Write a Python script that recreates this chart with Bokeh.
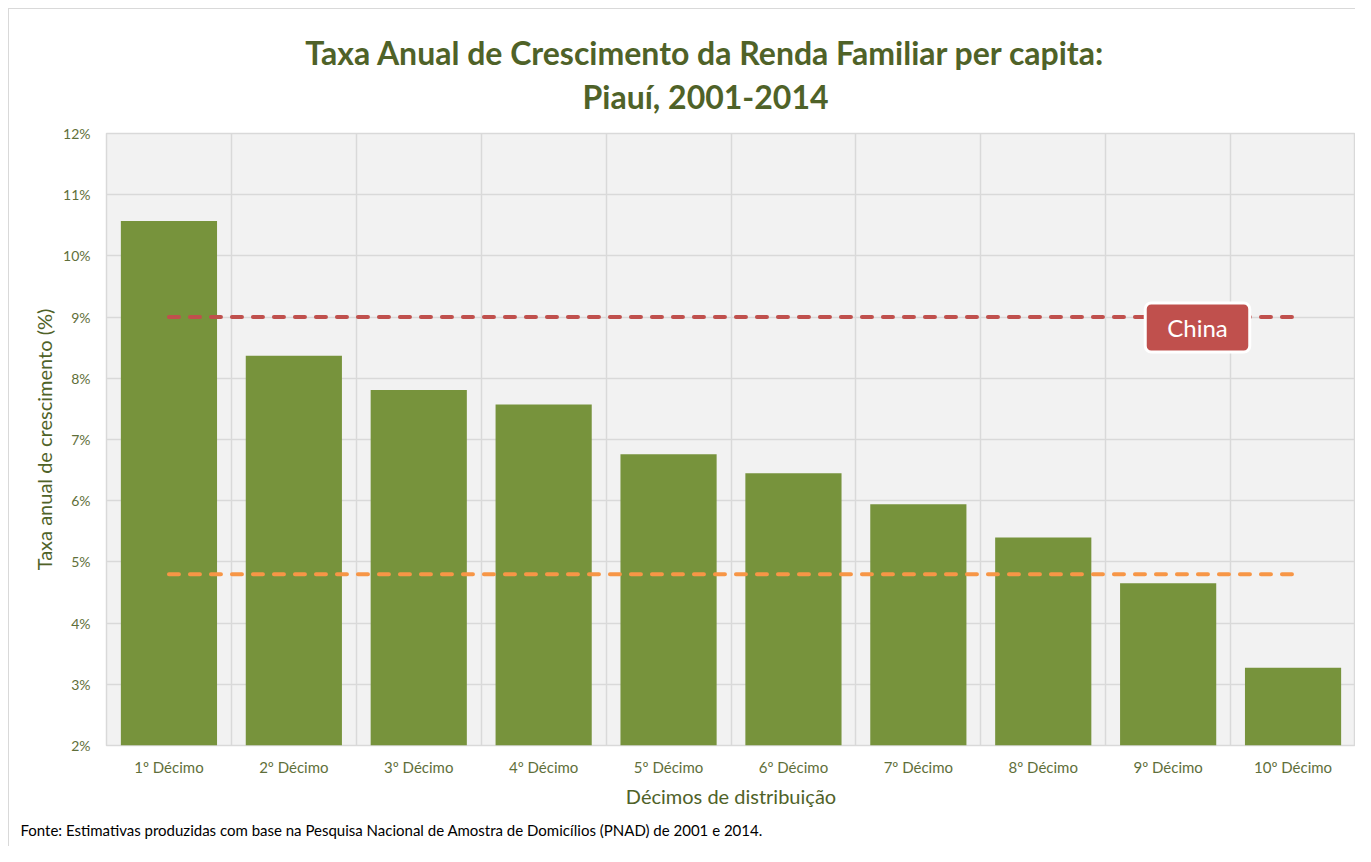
from bokeh.plotting import figure
from bokeh.layouts import column
from bokeh.models import (Range1d, FixedTicker, PrintfTickFormatter, Title, Label)
from bokeh.core.properties import value
from bokeh.embed import file_html
from bokeh.resources import INLINE

# ---- data ----
categorias = ["1º Décimo", "2º Décimo", "3º Décimo", "4º Décimo", "5º Décimo",
              "6º Décimo", "7º Décimo", "8º Décimo", "9º Décimo", "10º Décimo"]
taxa_crescimento = [10.57, 8.37, 7.81, 7.57, 6.76, 6.45, 5.94, 5.40, 4.65, 3.27]
taxa_china = 9.0
taxa_referencia = 4.8
y_ticks = [2, 3, 4, 5, 6, 7, 8, 9, 10, 11, 12]

titulo = ["Taxa Anual de Crescimento da Renda Familiar per capita:", "Piauí, 2001-2014"]
fonte_txt = "Fonte: Estimativas produzidas com base na  Pesquisa Nacional de Amostra de Domicílios (PNAD) de 2001 e 2014."

FONT = "Lato"
TITLE_C = "#4F6228"
TICK_C = "#5F6F3A"
W = 1355
HEAD_H = 120
LEFT = 106

# ---- header (title); its frame is aligned with the main frame ----
head = figure(width=W, height=HEAD_H, output_backend="svg", toolbar_location=None,
              x_range=Range1d(LEFT, W), y_range=Range1d(HEAD_H, 0),
              x_axis_type=None, y_axis_type=None, min_border=0)
head.outline_line_color = None
head.background_fill_color = None
head.border_fill_color = None
head.text(x=[705, 705], y=[52, 96], text=titulo, text_font=value(FONT),
          text_font_size="32px", text_font_style="bold", text_color=TITLE_C,
          text_align="center", text_baseline="middle")

# ---- main chart ----
n = len(categorias)
centros = [i + 0.5 for i in range(n)]

p = figure(width=W, height=846 - HEAD_H, output_backend="svg", toolbar_location=None,
           x_range=Range1d(0, n), y_range=Range1d(y_ticks[0], y_ticks[-1]),
           min_border_left=LEFT, min_border_right=0, min_border_top=133 - HEAD_H,
           min_border_bottom=99)

p.background_fill_color = "#F2F2F2"
p.border_fill_color = None
p.outline_line_color = "#D9D9D9"
p.outline_line_width = 1.5

# grids
p.xgrid.ticker = FixedTicker(ticks=list(range(n + 1)))
p.ygrid.ticker = FixedTicker(ticks=y_ticks)
p.xgrid.grid_line_color = "#D9D9D9"
p.ygrid.grid_line_color = "#D9D9D9"
p.xgrid.grid_line_width = 1.5
p.ygrid.grid_line_width = 1.5

# bars
p.vbar(x=centros, top=taxa_crescimento, bottom=y_ticks[0], width=0.77,
       fill_color="#77933C", line_color=None)

# reference lines
p.line(x=[centros[0], centros[-1]], y=[taxa_china, taxa_china],
       line_color="#C0504D", line_width=4, line_dash="10 11", line_cap="round")
p.line(x=[centros[0], centros[-1]], y=[taxa_referencia, taxa_referencia],
       line_color="#F79646", line_width=4, line_dash="10 11", line_cap="round")

p.add_layout(Label(x=8.735, y=taxa_china - 0.17, text="China", text_font=FONT,
                   text_font_size="24px", text_color="white", text_align="center",
                   text_baseline="middle", background_fill_color="#C0504D",
                   border_line_color="white", border_line_width=3,
                   padding=(22, 10), border_radius=6))

# axes
p.xaxis.ticker = FixedTicker(ticks=centros)
p.xaxis.major_label_overrides = {c: lab for c, lab in zip(centros, categorias)}
p.yaxis.ticker = FixedTicker(ticks=y_ticks)
p.yaxis.formatter = PrintfTickFormatter(format="%d%%")
for ax in (p.xaxis, p.yaxis):
    ax.axis_line_color = None
    ax.major_tick_line_color = None
    ax.minor_tick_line_color = None
    ax.major_label_text_font = FONT
    ax.major_label_text_font_size = "15px"
    ax.major_label_text_color = TICK_C
    ax.axis_label_text_font = FONT
    ax.axis_label_text_font_size = "20px"
    ax.axis_label_text_font_style = "normal"
    ax.axis_label_text_color = TITLE_C
p.yaxis.major_label_text_font_size = "14px"
p.xaxis.major_label_standoff = 6
p.yaxis.major_label_standoff = 10
p.xaxis.axis_label = "Décimos de distribuição"
p.yaxis.axis_label = "Taxa anual de crescimento (%)"
p.xaxis.axis_label_standoff = 5
p.yaxis.axis_label_standoff = 4
p.title = None

fonte = Title(text=fonte_txt, align="left", text_font=FONT, text_font_size="15px",
              text_font_style="normal", text_color="#000000", offset=-86, standoff=16)
p.add_layout(fonte, "below")

layout = column(head, p, spacing=0,
                styles={"background-color": "white",
                        "box-shadow": "inset 8px 8px 0 0 white, inset 9px 9px 0 0 #D9D9D9"})

open("out.html", "w").write(file_html(layout, INLINE))
